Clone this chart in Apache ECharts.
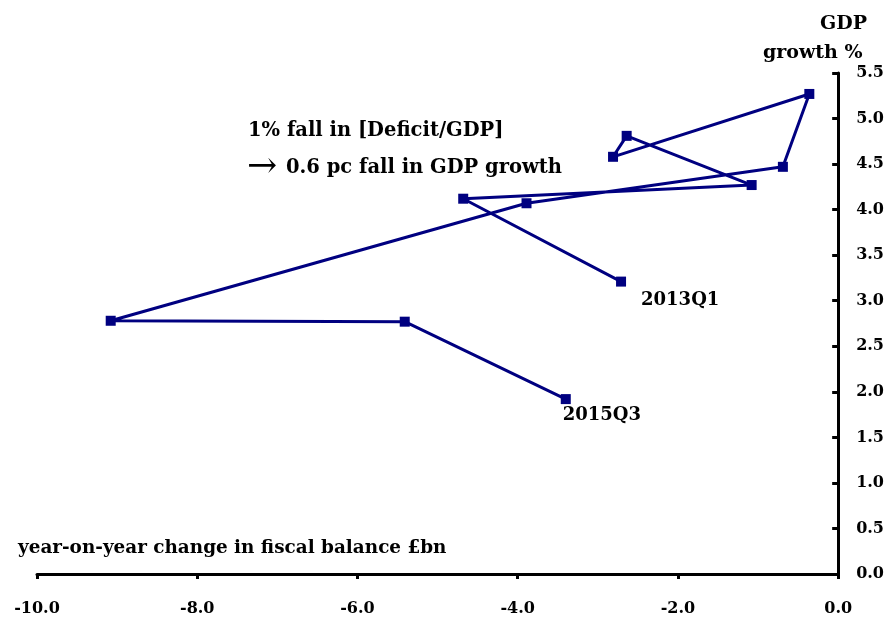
<!DOCTYPE html>
<html>
<head>
<meta charset="utf-8">
<script src="https://cdn.jsdelivr.net/npm/echarts@6/dist/echarts.min.js"></script>
<style>
html,body{margin:0;padding:0;background:#fff;}
#chart{width:887px;height:619px;}
</style>
</head>
<body>
<div id="chart"></div>
<script>
const quarters = ['2013Q1','2013Q2','2013Q3','2013Q4','2014Q1','2014Q2','2014Q3','2014Q4','2015Q1','2015Q2','2015Q3'];
const fiscalChange = [-2.71,-4.68,-1.08,-2.64,-2.81,-0.36,-0.69,-3.89,-9.08,-5.41,-3.40];
const gdpGrowth = [3.21,4.12,4.27,4.81,4.58,5.27,4.47,4.07,2.78,2.77,1.92];
const labelledQuarters = ['2013Q1','2015Q3'];
const xTicks = [-10,-8,-6,-4,-2,0];

const FONT = 'DejaVu Serif';
const chart = echarts.init(document.getElementById('chart'));

const seriesData = quarters.map((q, i) => {
  const item = { name: q, value: [fiscalChange[i], gdpGrowth[i]] };
  if (labelledQuarters.includes(q)) {
    item.label = {
      show: true,
      formatter: q,
      position: 'right',
      offset: i === 0 ? [10, 19] : [-13, 16]
    };
  }
  return item;
});

chart.setOption({
  animation: false,
  grid: { left: 37, right: 48, top: 73, bottom: 45, containLabel: false },
  xAxis: {
    type: 'value',
    min: xTicks[0], max: xTicks[xTicks.length - 1], interval: 2,
    axisLine: { show: true, onZero: false, lineStyle: { color: '#000', width: 3 } },
    axisTick: { show: true, inside: false, length: 5, lineStyle: { color: '#000', width: 3 } },
    axisLabel: { formatter: v => v.toFixed(1), color: '#000', fontFamily: FONT, fontWeight: 'bold', fontSize: 16, margin: 27 },
    splitLine: { show: false }
  },
  yAxis: {
    type: 'value',
    position: 'right',
    min: 0, max: 5.5, interval: 0.5,
    axisLine: { show: true, lineStyle: { color: '#000', width: 3 } },
    axisTick: { show: true, inside: true, length: 6, lineStyle: { color: '#000', width: 3 } },
    axisLabel: { formatter: v => v.toFixed(1), color: '#000', fontFamily: FONT, fontWeight: 'bold', fontSize: 16, margin: 18 },
    splitLine: { show: false }
  },
  series: [{
    type: 'line',
    data: seriesData,
    symbol: 'rect',
    symbolSize: 10,
    showSymbol: true,
    lineStyle: { color: '#000080', width: 3 },
    itemStyle: { color: '#000080' },
    label: { show: false, color: '#000', fontFamily: FONT, fontWeight: 'bold', fontSize: 18 }
  }],
  graphic: [
    { type: 'text', left: 820, top: 15, style: { text: 'GDP', fill: '#000', font: 'bold 19px "DejaVu Serif"' } },
    { type: 'text', left: 763, top: 44, style: { text: 'growth %', fill: '#000', font: 'bold 19px "DejaVu Serif"' } },
    { type: 'text', left: 248, top: 121, style: { text: '1% fall in [Deficit/GDP]', fill: '#000', font: 'bold 19.5px "DejaVu Serif"' } },
    { type: 'text', left: 247, top: 150, style: { text: '\u2192', fill: '#000', font: '36px "DejaVu Serif"' } },
    { type: 'text', left: 286, top: 158, style: { text: '0.6 pc fall in GDP growth', fill: '#000', font: 'bold 19.5px "DejaVu Serif"' } },
    { type: 'text', left: 18, top: 539, style: { text: 'year-on-year change in fiscal balance \u00a3bn', fill: '#000', font: 'bold 18.4px "DejaVu Serif"' } }
  ]
});
</script>
</body>
</html>
